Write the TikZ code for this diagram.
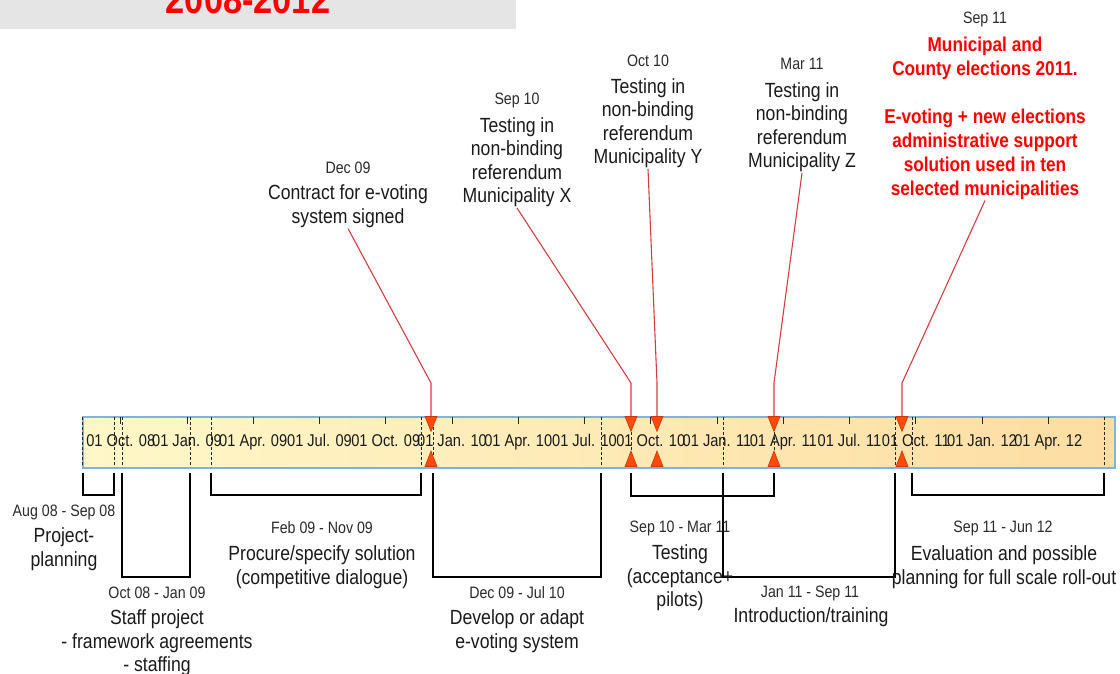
\documentclass[tikz,border=0pt]{standalone}
\usepackage{fontspec}
\setmainfont{Liberation Sans}[FakeStretch=0.86]
\definecolor{hdgray}{HTML}{E5E5E5}
\definecolor{hdred}{HTML}{FF0000}
\definecolor{barL}{HTML}{FFF7C8}
\definecolor{barR}{HTML}{FDDDA3}
\definecolor{barblue}{HTML}{7DB3E0}
\definecolor{connred}{HTML}{D63C3F}
\definecolor{markfill}{HTML}{FF4A0A}
\definecolor{markedge}{HTML}{C8380A}
\definecolor{txtdark}{HTML}{1A1A1A}
\definecolor{txtgray}{HTML}{2A2A2A}
\begin{document}
\begin{tikzpicture}[x=1pt,y=-1pt,
  date/.style={font=\fontsize{16.5}{19}\selectfont, text=txtgray, inner sep=1pt},
  lbl/.style={font=\fontsize{20.5}{23.5}\selectfont, text=txtdark, align=center, inner sep=1pt},
  redlbl/.style={font=\bfseries\fontsize{20}{24}\selectfont, text=hdred, align=center, inner sep=1pt},
  barlbl/.style={font=\fontsize{17}{19}\selectfont, text=txtdark, anchor=base, inner sep=0pt},
  brk/.style={line width=1.5pt, draw=black, line join=miter},
  divider/.style={densely dashed, line width=0.8pt, draw=black!85},
  conn/.style={draw=connred, line width=1.1pt},
  markd/.style={fill=markfill, draw=markedge, line width=0.6pt},
]
\useasboundingbox (0,0) rectangle (1120,673);
\clip (0,0) rectangle (1120,673);
\fill[white] (0,0) rectangle (1120,673);
% header
\fill[hdgray] (0,0) rectangle (516,29);
\node[font=\bfseries\fontsize{40}{44}\selectfont, text=hdred, anchor=base, inner sep=0pt] (title) at (248,13.5) {2008-2012};
% bar
\node[draw=barblue, line width=1.5pt, left color=barL, right color=barR, minimum width=1032pt, minimum height=51pt, inner sep=0pt, anchor=north west] (bar) at (82,416) {};
\foreach \k in {0,...,14} \draw[line width=0.8pt, black!85] ({120.75+66.25*\k},416.5) -- ++(0,7);
\foreach \x in {82,114,122,190,211,421,433,601,631,723,774,895,912,1104} \draw[divider] (\x,417) -- (\x,466);
\foreach \k/\t in {0/01 Oct. 08,1/01 Jan. 09,2/01 Apr. 09,3/01 Jul. 09,4/01 Oct. 09,5/01 Jan. 10,6/01 Apr. 10,7/01 Jul. 10,8/01 Oct. 10,9/01 Jan. 11,10/01 Apr. 11,11/01 Jul. 11,12/01 Oct. 11,13/01 Jan. 12,14/01 Apr. 12}
  \node[barlbl] (q\k) at ({120.75+66.25*\k},446) {\t};
% top labels
\node[date] (d1) at (348,168) {Dec 09};
\node[lbl] (t1) at (348,206) {Contract for e-voting\\system signed};
\node[date] (d2) at (517,100) {Sep 10};
\node[lbl] (t2) at (517,162) {Testing in\\non-binding\\referendum\\Municipality X};
\node[date] (d3) at (648,61) {Oct 10};
\node[lbl] (t3) at (648,123) {Testing in\\non-binding\\referendum\\Municipality Y};
\node[date] (d4) at (802,64) {Mar 11};
\node[lbl] (t4) at (802,127) {Testing in\\non-binding\\referendum\\Municipality Z};
\node[date] (d5) at (985,19) {Sep 11};
\node[redlbl] (t5) at (985,118) {Municipal and\\County elections 2011.\\[24pt]E-voting + new elections\\administrative support\\solution used in ten\\selected municipalities};
% connector coordinates
\coordinate (k1) at (431,383); \coordinate (mt1) at (431,416);
\coordinate (k2) at (631,383); \coordinate (mt2) at (631,416);
\coordinate (k3) at (657,383); \coordinate (mt3) at (657,416);
\coordinate (k4) at (774,383); \coordinate (mt4) at (774,416);
\coordinate (k5) at (902,383); \coordinate (mt5) at (902,416);
\draw[conn] (t1.south) -- (k1) -- (mt1);
\draw[conn] (t2.south) -- (k2) -- (mt2);
\draw[conn] (t3.south) -- (k3) -- (mt3);
\draw[conn] (t4.south) -- (k4) -- (mt4);
\draw[conn] (t5.south) -- (k5) -- (mt5);
% markers
\foreach \x in {431,631,657,774,902} {
  \filldraw[markd] (\x-6,416.5) -- (\x+6,416.5) -- (\x,431.5) -- cycle;
  \filldraw[markd] (\x-6,466.5) -- (\x+6,466.5) -- (\x,451) -- cycle;
}
% brackets
\draw[brk] (83,473) |- (114,495) -- (114,473);
\draw[brk] (122,473) |- (190,577) -- (190,473);
\draw[brk] (211,473) |- (421,495) -- (421,473);
\draw[brk] (433,473) |- (601,577) -- (601,473);
\draw[brk] (631,473) |- (774,496) -- (774,473);
\draw[brk] (723,473) |- (895,577) -- (895,473);
\draw[brk] (912,473) |- (1104,495) -- (1104,473);
% bottom labels
\node[date] (b1d) at (64,512) {Aug 08 - Sep 08};
\node[lbl] (b1) at (64,549) {Project-\\planning};
\node[date] (b2d) at (157,593) {Oct 08 - Jan 09};
\node[lbl] (b2) at (157,643) {Staff project\\- framework agreements\\- staffing};
\node[date] (b3d) at (322,528) {Feb 09 - Nov 09};
\node[lbl] (b3) at (322,567) {Procure/specify solution\\(competitive dialogue)};
\node[date] (b4d) at (517,593) {Dec 09 - Jul 10};
\node[lbl] (b4) at (517,631) {Develop or adapt\\e-voting system};
\node[date] (b5d) at (680,528) {Sep 10 - Mar 11};
\node[lbl] (b5) at (680,578) {Testing\\(acceptance+\\pilots)};
\node[date] (b6d) at (810,593) {Jan 11 - Sep 11};
\node[lbl] (b6) at (811,617) {Introduction/training};
\node[date] (b7d) at (1003,528) {Sep 11 - Jun 12};
\node[lbl] (b7) at (1004,567) {Evaluation and possible\\planning for full scale roll-out};
\end{tikzpicture}
\end{document}
